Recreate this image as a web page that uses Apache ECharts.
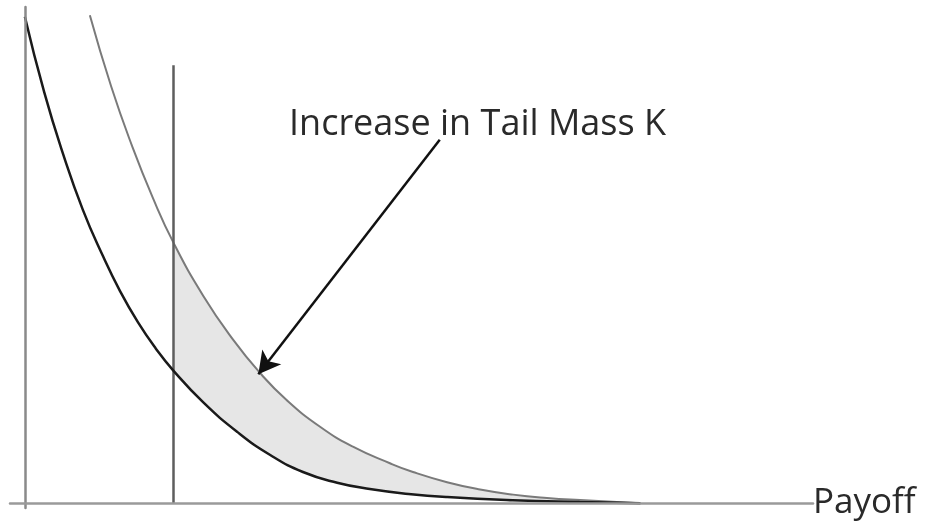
<!DOCTYPE html>
<html>
<head>
<meta charset="utf-8">
<script src="https://cdn.jsdelivr.net/npm/echarts@6/dist/echarts.min.js"></script>
<style>html,body{margin:0;padding:0;background:#fff}#c{width:930px;height:525px}</style>
</head>
<body>
<div id="c"></div>
<script>
// Base (black) density curve
const baseX = [0, 0.13, 0.26, 0.39, 0.525, 0.64, 0.76, 0.88, 1.0, 1.2, 1.43, 1.65, 1.87, 2.1, 2.32, 2.58, 2.84, 3.28, 3.73, 4.14];
const baseY = [1.0, 0.845, 0.715, 0.603, 0.508, 0.436, 0.372, 0.318, 0.272, 0.207, 0.146, 0.099, 0.064, 0.042, 0.029, 0.019, 0.0125, 0.006, 0.0023, 0];
// Shifted (gray) density curve
const fatX = [0.437, 0.58, 0.72, 0.86, 1.0, 1.2, 1.4, 1.58, 1.76, 1.985, 2.206, 2.455, 2.61, 2.839, 3.061, 3.283, 3.511, 3.733, 4.136];
const fatY = [1.003, 0.857, 0.735, 0.628, 0.535, 0.426, 0.336, 0.268, 0.212, 0.157, 0.116, 0.082, 0.064, 0.043, 0.028, 0.0175, 0.0105, 0.0062, 0];
// Threshold K
const kValue = 1.0;
const kLineTop = 0.9;
// Annotation arrow (start, tip) and text
const arrowFrom = [2.79, 0.747];
const arrowTo = [1.57, 0.265];
const annotation = 'Increase in Tail Mass K';
const xName = 'Payoff';

const pairs = (xs, ys) => xs.map((x, i) => [x, ys[i]]);
const basePts = pairs(baseX, baseY);
const fatPts = pairs(fatX, fatY);
const baseTail = basePts.filter(p => p[0] >= kValue);
const fatTail = fatPts.filter(p => p[0] >= kValue);

const FONT = '"Open Sans"';
const chart = echarts.init(document.getElementById('c'));
const lineCommon = { type: 'line', smooth: 0.5, symbol: 'none' };
chart.setOption({
  animation: false,
  backgroundColor: '#fff',
  grid: { left: 10, right: 117, top: 7, bottom: 17 },
  xAxis: {
    type: 'value', min: -0.1, max: 5.3, z: 10,
    axisLine: { show: true, onZero: true, lineStyle: { color: '#9a9a9a', width: 2.5 } },
    axisTick: { show: false }, axisLabel: { show: false }, splitLine: { show: false },
    name: xName, nameLocation: 'end', nameGap: 0,
    nameTextStyle: { fontSize: 35, color: '#2a2a2a', fontFamily: FONT, verticalAlign: 'middle' }
  },
  yAxis: {
    type: 'value', min: -0.01, max: 1.02, z: 10,
    axisLine: { show: true, onZero: true, lineStyle: { color: '#8a8a8a', width: 2.5 } },
    axisTick: { show: false }, axisLabel: { show: false }, splitLine: { show: false }
  },
  graphic: [{
    type: 'text', left: 289, top: 107, z: 20,
    style: { text: annotation, fontSize: 36, fontFamily: FONT, fill: '#2a2a2a' }
  }],
  series: [
    Object.assign({}, lineCommon, { data: fatTail, z: 1,
      lineStyle: { width: 0 }, areaStyle: { color: '#e6e6e6', opacity: 1 } }),
    Object.assign({}, lineCommon, { data: baseTail, z: 1,
      lineStyle: { width: 0 }, areaStyle: { color: '#ffffff', opacity: 1 } }),
    Object.assign({}, lineCommon, { data: fatPts, z: 4,
      lineStyle: { color: '#7a7a7a', width: 2 } }),
    Object.assign({}, lineCommon, { data: basePts, z: 5,
      lineStyle: { color: '#1a1a1a', width: 2.5 },
      markLine: {
        silent: true, animation: false, label: { show: false },
        data: [
          [{ coord: [kValue, 0], symbol: 'none', lineStyle: { color: '#5e5e5e', width: 2.5, type: 'solid' } },
           { coord: [kValue, kLineTop], symbol: 'none' }],
          [{ coord: arrowFrom, symbol: 'none', lineStyle: { color: '#111', width: 2.5, type: 'solid' } },
           { coord: arrowTo, symbol: 'arrow', symbolSize: [18, 22] }]
        ]
      }
    })
  ]
});
</script>
</body>
</html>
